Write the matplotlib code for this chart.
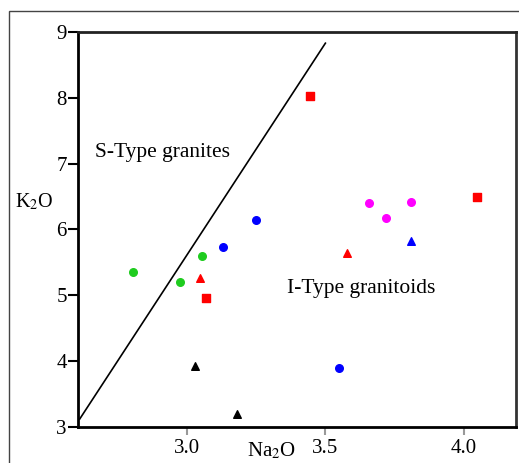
import matplotlib
matplotlib.use("Agg")
import matplotlib.pyplot as plt
from matplotlib.patches import Rectangle

# Na2O vs K2O discrimination data
circ_green_x = [2.806, 2.975, 3.055]
circ_green_y = [5.35, 5.20, 5.60]
circ_blue_x = [3.130, 3.250, 3.549]
circ_blue_y = [5.73, 6.14, 3.89]
circ_magenta_x = [3.658, 3.719, 3.809]
circ_magenta_y = [6.40, 6.17, 6.42]
sq_red_x = [3.069, 3.445, 4.047]
sq_red_y = [4.96, 8.03, 6.49]
tri_red_x = [3.047, 3.578]
tri_red_y = [5.26, 5.64]
tri_blue_x = [3.809]
tri_blue_y = [5.82]
tri_black_x = [3.029, 3.181]
tri_black_y = [3.92, 3.19]

# S/I boundary line
line_x = [2.613, 3.50]
line_y = [3.12, 8.83]

xticks = [3.0, 3.5, 4.0]
xtick_labels = ["3.0", "3.5", "4.0"]
yticks = [3, 4, 5, 6, 7, 8, 9]

plt.rcParams['font.family'] = ['Liberation Serif', 'DejaVu Serif']
plt.rcParams['mathtext.fontset'] = 'stix'

fig = plt.figure(figsize=(5.19, 4.63), dpi=100)
fig.patches.append(Rectangle((9 / 519, -0.1), 1.2, 1.1 - 11 / 463,
                             transform=fig.transFigure, fill=False,
                             edgecolor='#444444', linewidth=1.0))
ax = fig.add_axes([0.1503, 0.0778, 0.8439, 0.8531])

ms = 30
ax.scatter(circ_green_x, circ_green_y, s=ms, marker='o', color='#1fcc1f', zorder=3)
ax.scatter(circ_blue_x, circ_blue_y, s=ms, marker='o', color='#0000ff', zorder=3)
ax.scatter(circ_magenta_x, circ_magenta_y, s=ms, marker='o', color='#ff00ff', zorder=3)
ax.scatter(sq_red_x, sq_red_y, s=ms, marker='s', color='#ff0000', zorder=3)
ax.scatter(tri_red_x, tri_red_y, s=ms, marker='^', color='#ff0000', zorder=3)
ax.scatter(tri_blue_x, tri_blue_y, s=ms, marker='^', color='#0000ff', zorder=3)
ax.scatter(tri_black_x, tri_black_y, s=ms, marker='^', color='black', zorder=3)

ax.plot(line_x, line_y, color='black', linewidth=1.2)

ax.set_xlim(2.607, 4.188)
ax.set_ylim(3, 9)
ax.set_xticks(xticks)
ax.set_xticklabels(xtick_labels)
ax.set_yticks(yticks)
ax.tick_params(axis='x', direction='out', length=6, width=1.5, color='#999999',
               labelsize=15, pad=3)
ax.tick_params(axis='y', direction='out', length=7, width=1.5, color='black',
               labelsize=15, pad=1)
for s in ax.spines.values():
    s.set_linewidth(2)
ax.spines['top'].set_color('#222222')
ax.spines['right'].set_color('#333333')

ax.text(2.67, 7.17, "S-Type granites", fontsize=15.5, va='center')
ax.text(3.361, 5.11, "I-Type granitoids", fontsize=15.5, va='center')

fig.text(15 / 519, 1 - 202 / 463, r"K$_{\mathrm{2}}$O", fontsize=14.5, va='center')
fig.text(247 / 519, 1 - 451 / 463, r"Na$_{\mathrm{2}}$O", fontsize=15, va='center')

fig.savefig("out.png", dpi=100)
